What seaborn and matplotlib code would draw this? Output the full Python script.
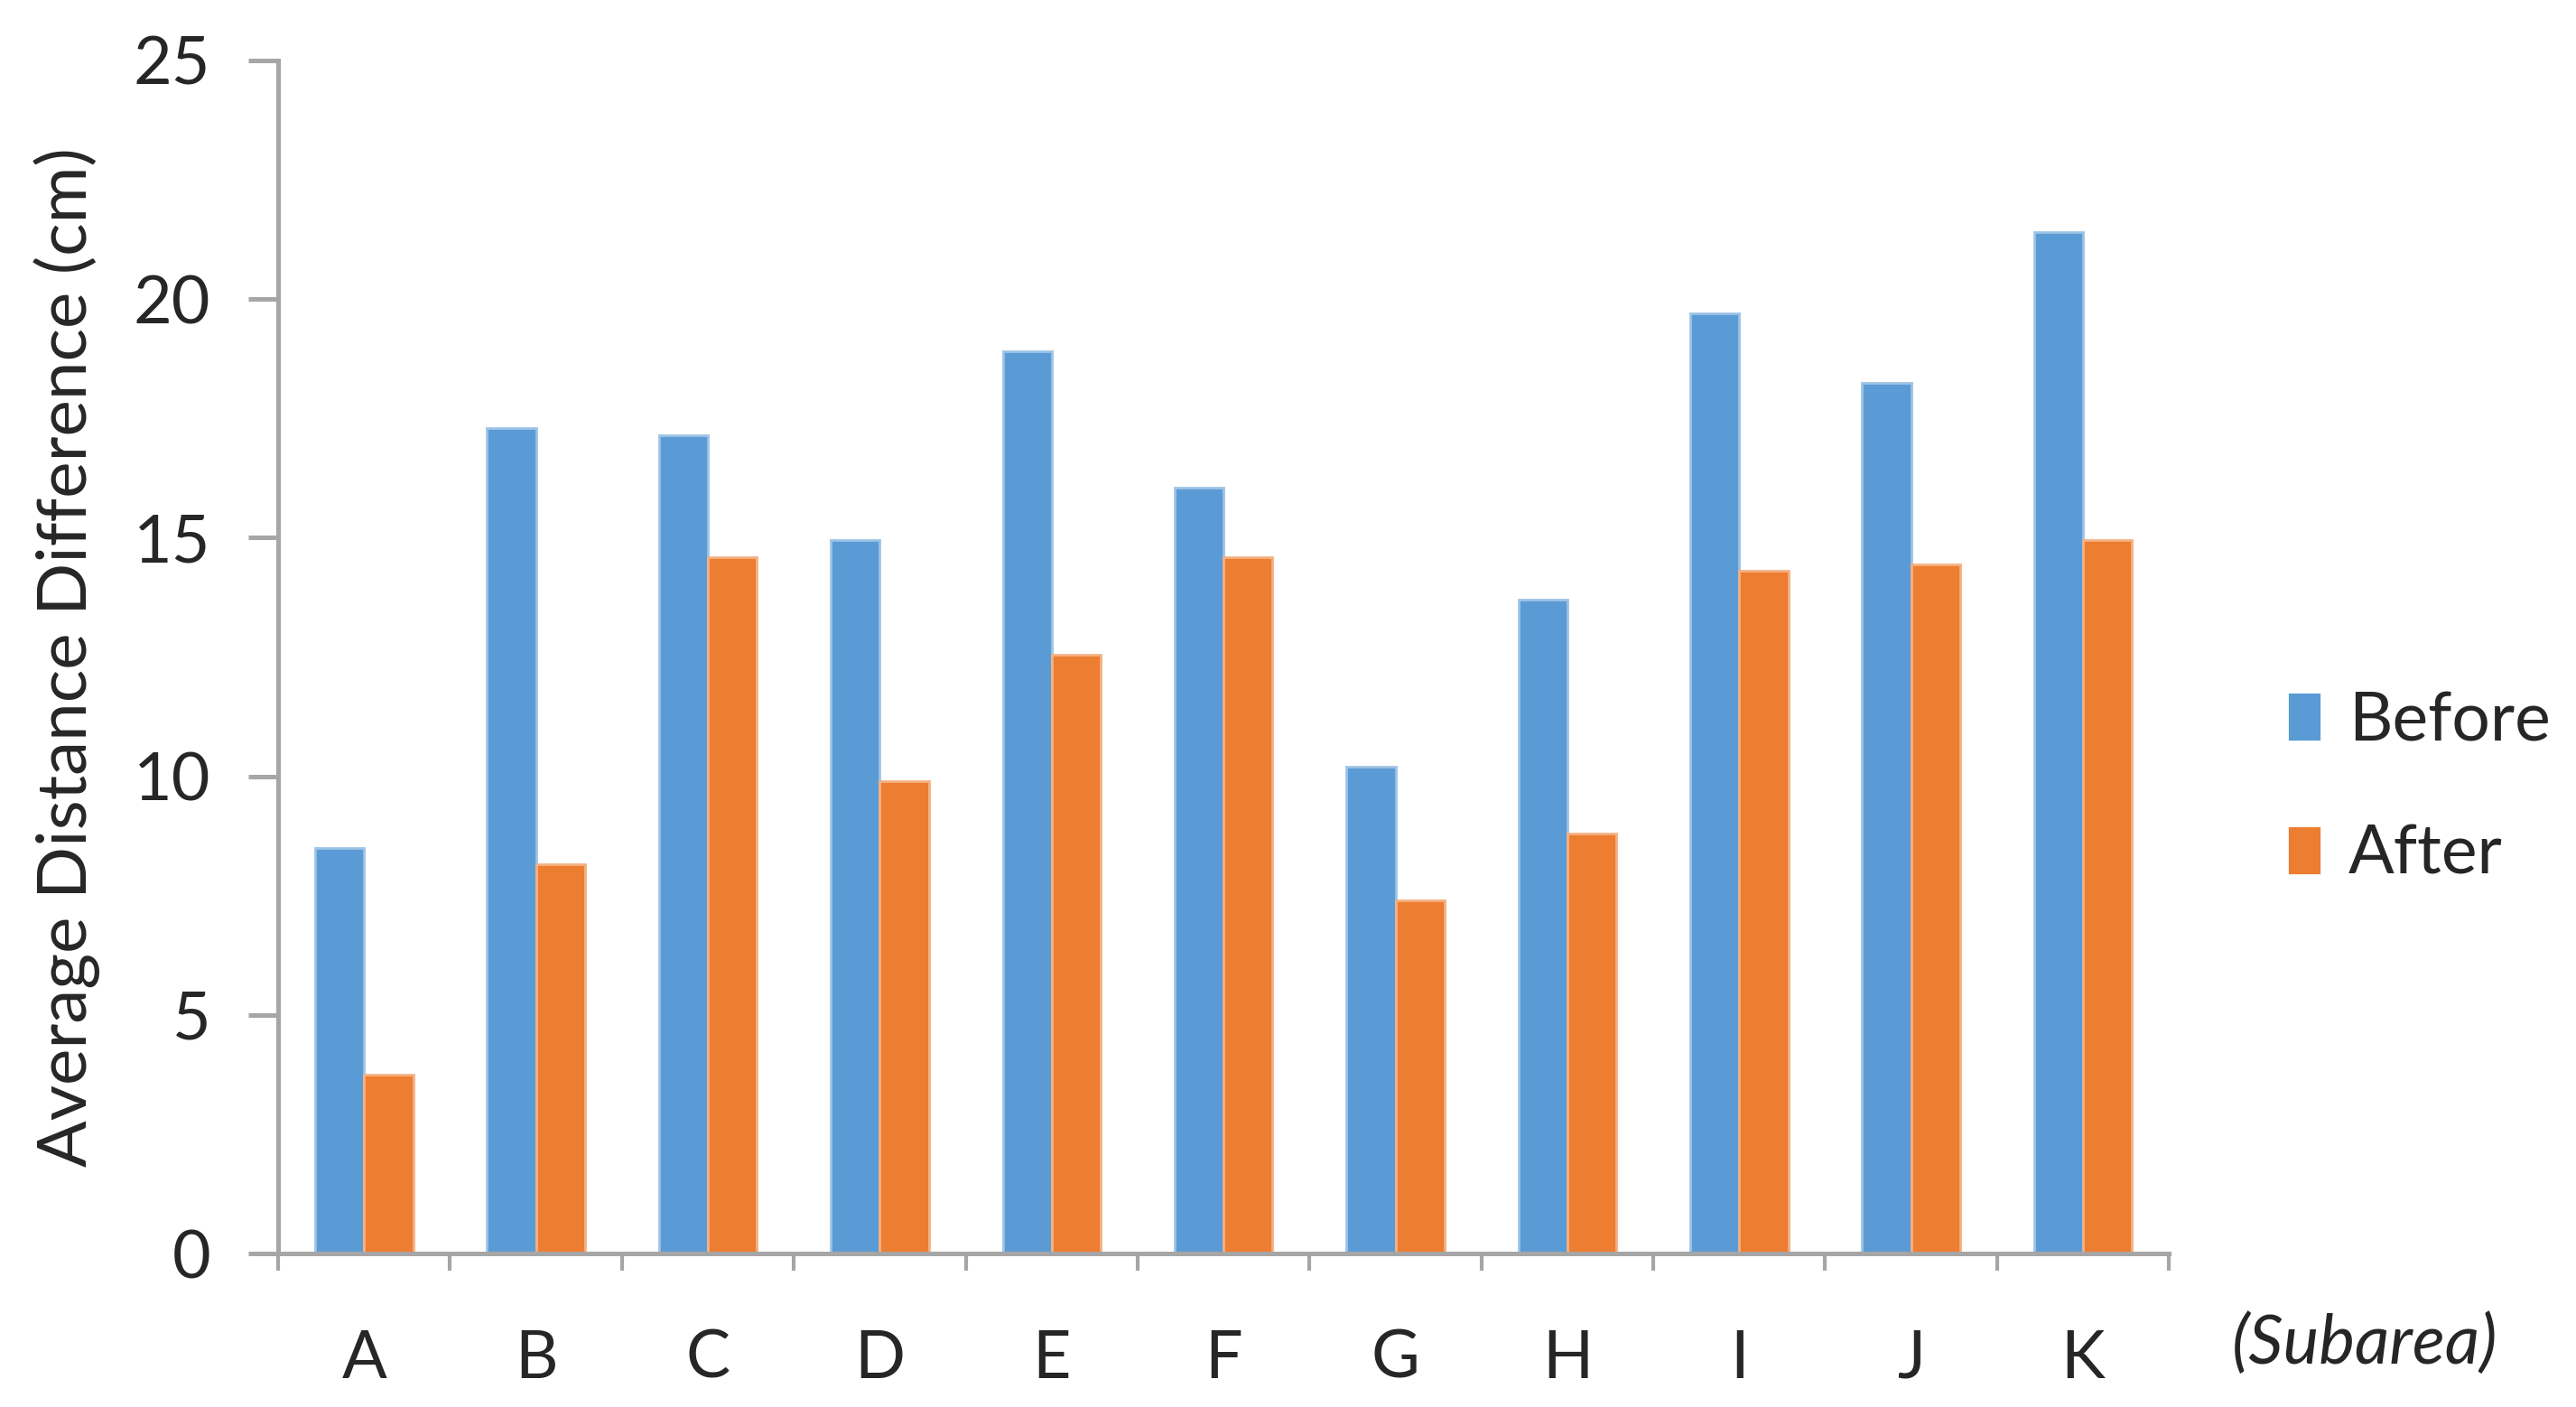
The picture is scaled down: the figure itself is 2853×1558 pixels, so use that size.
import pandas as pd
import seaborn as sns
import matplotlib.pyplot as plt

# values
subareas = ['A', 'B', 'C', 'D', 'E', 'F', 'G', 'H', 'I', 'J', 'K']
before = [8.5, 17.3, 17.15, 14.95, 18.9, 16.05, 10.2, 13.7, 19.7, 18.25, 21.4]
after = [3.75, 8.15, 14.6, 9.9, 12.55, 14.6, 7.4, 8.8, 14.3, 14.45, 14.95]
yticks = [0, 5, 10, 15, 20, 25]

sns.set_theme(style='white')
plt.rcParams['font.family'] = ['Lato', 'DejaVu Sans']
plt.rcParams['font.size'] = 26

df = pd.DataFrame({
    'Subarea': subareas * 2,
    'Value': before + after,
    'Series': ['Before'] * len(before) + ['After'] * len(after),
})

farben = {'Before': '#5B9BD5', 'After': '#ED7D31'}
kanten = {'Before': '#9DC3E6', 'After': '#F4B183'}
grau = '#A6A6A6'

fig = plt.figure(figsize=(14.265, 7.79), dpi=200)
ax = fig.add_axes([0.108, 0.109, 0.734, 0.848])

sns.barplot(data=df, x='Subarea', y='Value', hue='Series', palette=farben,
            width=0.57, ax=ax, saturation=1)

# light outline like the original
for cont, name in zip(ax.containers, ['Before', 'After']):
    for bar in cont:
        bar.set_edgecolor(kanten[name])
        bar.set_linewidth(1.0)

ax.set_xlim(-0.5, len(subareas) - 0.5)
ax.set_ylim(0, 25)
ax.set_yticks(yticks)

for s in ['top', 'right']:
    ax.spines[s].set_visible(False)
for s in ['left', 'bottom']:
    ax.spines[s].set_color(grau)
    ax.spines[s].set_linewidth(1.8)

ax.tick_params(axis='y', which='major', direction='out', length=12, width=1.8,
               color=grau, pad=15, labelsize=26.5, left=True)
ax.tick_params(axis='x', which='major', length=0, pad=30, labelsize=26.5)
# ticks between categories
ax.set_xticks([i - 0.5 for i in range(len(subareas) + 1)], minor=True)
ax.tick_params(axis='x', which='minor', direction='out', length=7, width=1.5,
               color=grau, bottom=True)

ax.set_xlabel('')
ax.set_ylabel('Average Distance Difference (cm)', fontsize=27.5)
ax.yaxis.set_label_coords(-0.094, 0.5)

fig.text(0.918, 0.045, '(Subarea)', style='italic', fontsize=27,
         ha='center', va='center')

handles, labels = ax.get_legend_handles_labels()
ax.legend(handles, labels, loc='center left', bbox_to_anchor=(0.888, 0.44),
          bbox_transform=fig.transFigure, frameon=False, fontsize=27,
          handlelength=0.5, handleheight=0.75, handletextpad=0.4,
          labelspacing=1.05, borderpad=0, borderaxespad=0)

plt.savefig('out.png', dpi=200)
